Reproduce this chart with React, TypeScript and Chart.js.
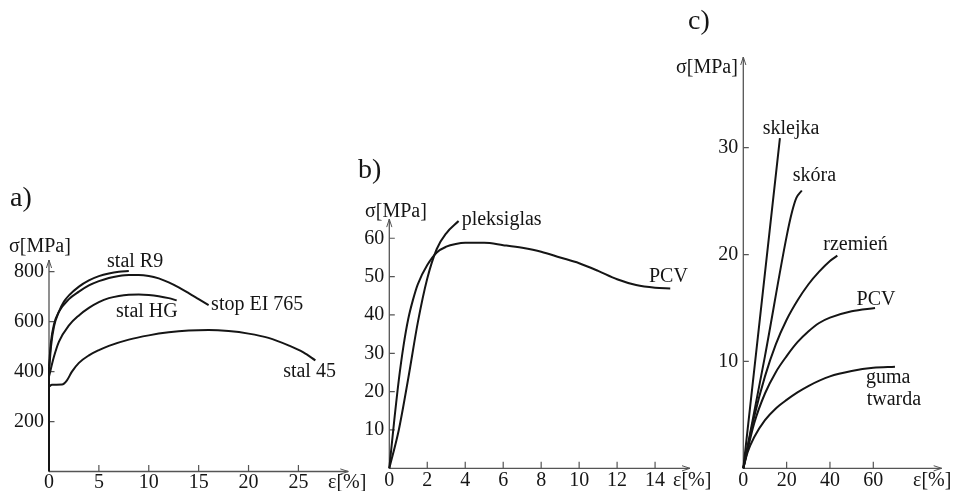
import React, { useEffect, useRef } from "react";
import { Chart, registerables } from "chart.js";

Chart.register(...registerables);

const W = 955;
const H = 491;
const FONT = '"Liberation Serif", "Times New Roman", serif';
const INK = "#151515";
const AXIS = "#555555";

// ---------- Panel a) steels ----------
const aTicksX = [0, 5, 10, 15, 20, 25];
const aTicksY = [200, 400, 600, 800];
const aStemX = [0, 0];
const aStemY = [0, 420];
const aR9X = [0, 0.2, 0.5, 1, 1.5, 2, 3, 4, 5, 6, 7, 8];
const aR9Y = [400, 500, 580, 640, 680, 705, 740, 765, 782, 793, 800, 803];
const aEIX = [0, 0.2, 0.5, 1, 2, 3, 4, 5, 6, 7, 8, 9, 10, 11, 12, 13, 14, 15, 16];
const aEIY = [420, 520, 590, 640, 690, 720, 745, 762, 775, 783, 787, 787, 783, 773, 757, 737, 714, 690, 666];
const aHGX = [0, 0.5, 1, 2, 3, 4, 5, 6, 7, 8, 9, 10, 11, 12, 12.8];
const aHGY = [380, 460, 520, 585, 625, 655, 678, 694, 703, 708, 709, 707, 702, 694, 685];
const a45X = [0, 0.3, 1.3, 1.8, 2.3, 3, 4, 5, 6, 8, 10, 12, 14, 16, 18, 20, 22, 24, 25.5, 26.7];
const a45Y = [340, 347, 348, 365, 400, 435, 465, 486, 503, 528, 545, 557, 564, 566, 562, 552, 535, 505, 477, 445];
const aLabels = ["stal R9", "stop EI 765", "stal HG", "stal 45"];
const aLabelX = [5.82, 16.25, 6.72, 23.47];
const aLabelY = [838, 666, 641, 400];

// ---------- Panel b) plastics ----------
const bTicksX = [0, 2, 4, 6, 8, 10, 12, 14];
const bTicksY = [10, 20, 30, 40, 50, 60];
const bPlexX = [0, 0.5, 1, 1.5, 2, 2.5, 3, 3.65];
const bPlexY = [0, 10, 23.5, 38, 49.5, 57.2, 61.3, 64.5];
const bPcvX = [0, 0.25, 0.5, 0.75, 1, 1.25, 1.5, 2, 2.5, 3, 3.5, 4, 5, 6, 7, 8, 9, 10, 11, 12, 13, 14, 14.8];
const bPcvY = [0, 12, 23, 32, 39, 44, 48, 53, 56.3, 57.8, 58.5, 58.8, 58.8, 58.2, 57.5, 56.5, 55, 53.5, 51.5, 49.3, 47.8, 47.1, 46.9];
const bLabels = ["pleksiglas", "PCV"];
const bLabelX = [3.81, 13.68];
const bLabelY = [64.8, 50.0];

// ---------- Panel c) soft materials ----------
const cTicksX = [0, 20, 40, 60];
const cTicksY = [10, 20, 30];
const cSklejkaX = [0, 16.9];
const cSklejkaY = [0, 30.9];
const cSkoraX = [0, 10, 20, 22.5, 24.5, 27];
const cSkoraY = [0, 10.5, 21.7, 24, 25.3, 26];
const cRzemienX = [0, 5, 10, 15, 20, 25, 30, 35, 40, 43.4];
const cRzemienY = [0, 4.8, 8.6, 11.6, 13.9, 15.7, 17.2, 18.4, 19.4, 19.9];
const cPcvX = [0, 5, 10, 15, 20, 25, 30, 35, 40, 50, 60.8];
const cPcvY = [0, 4.2, 7, 9, 10.5, 11.8, 12.8, 13.6, 14.1, 14.7, 15.0];
const cGumaX = [0, 2, 5, 10, 15, 20, 25, 30, 40, 50, 60, 70];
const cGumaY = [0, 1.5, 2.9, 4.5, 5.6, 6.4, 7.1, 7.7, 8.6, 9.1, 9.4, 9.5];
const cLabels = ["sklejka", "skóra", "rzemień", "PCV", "guma", "twarda"];
const cLabelX = [8.95, 22.8, 36.9, 52.3, 56.6, 56.95];
const cLabelY = [31.8, 27.35, 20.9, 15.75, 8.45, 6.39];

const pts = (xs: number[], ys: number[]) => xs.map((x, i) => ({ x, y: ys[i] }));

type Panel = {
  letter: string;
  letterPos: [number, number];
  sigmaPos: [number, number];
  epsPos: [number, number];
  area: { left: number; right: number; top: number; bottom: number };
  xMax: number;
  yMax: number;
  ticksX: number[];
  ticksY: number[];
  xPad: number;
  series: { xs: number[]; ys: number[] }[];
  labels: string[];
  labelX: number[];
  labelY: number[];
};

const panels: Panel[] = [
  {
    letter: "a)",
    letterPos: [10, 199],
    sigmaPos: [9, 247],
    epsPos: [328, 482.5],
    area: { left: 49, right: 348.3, top: 260, bottom: 471.5 },
    xMax: 30.0,
    yMax: 846.7,
    ticksX: aTicksX,
    ticksY: aTicksY,
    xPad: 1,
    series: [
      { xs: aStemX, ys: aStemY },
      { xs: aR9X, ys: aR9Y },
      { xs: aEIX, ys: aEIY },
      { xs: aHGX, ys: aHGY },
      { xs: a45X, ys: a45Y },
    ],
    labels: aLabels,
    labelX: aLabelX,
    labelY: aLabelY,
  },
  {
    letter: "b)",
    letterPos: [358, 171],
    sigmaPos: [365, 211.7],
    epsPos: [673, 480.5],
    area: { left: 389.3, right: 690, top: 219.1, bottom: 468.3 },
    xMax: 15.84,
    yMax: 65,
    ticksX: bTicksX,
    ticksY: bTicksY,
    xPad: 2,
    series: [
      { xs: bPlexX, ys: bPlexY },
      { xs: bPcvX, ys: bPcvY },
    ],
    labels: bLabels,
    labelX: bLabelX,
    labelY: bLabelY,
  },
  {
    letter: "c)",
    letterPos: [688, 22],
    sigmaPos: [676, 68],
    epsPos: [913, 481],
    area: { left: 743.3, right: 941.7, top: 57, bottom: 468.3 },
    xMax: 91.57,
    yMax: 38.49,
    ticksX: cTicksX,
    ticksY: cTicksY,
    xPad: 2,
    series: [
      { xs: cSklejkaX, ys: cSklejkaY },
      { xs: cSkoraX, ys: cSkoraY },
      { xs: cRzemienX, ys: cRzemienY },
      { xs: cPcvX, ys: cPcvY },
      { xs: cGumaX, ys: cGumaY },
    ],
    labels: cLabels,
    labelX: cLabelX,
    labelY: cLabelY,
  },
];

const Y_AXIS_W = 45;

function makeDecor(p: Panel) {
  return {
    id: "decor",
    beforeDatasetsDraw(chart: any) {
      const { ctx, chartArea: ca, scales } = chart;
      const xs = scales.x;
      const ys = scales.y;
      ctx.save();
      ctx.strokeStyle = AXIS;
      ctx.lineWidth = 1.3;
      ctx.beginPath();
      ctx.moveTo(ca.left, ca.bottom);
      ctx.lineTo(ca.right, ca.bottom);
      ctx.moveTo(ca.left, ca.bottom);
      ctx.lineTo(ca.left, ca.top);
      ctx.stroke();
      ctx.lineWidth = 1;
      ctx.beginPath();
      ctx.moveTo(ca.right - 8, ca.bottom - 2.6);
      ctx.lineTo(ca.right, ca.bottom);
      ctx.lineTo(ca.right - 8, ca.bottom + 2.6);
      ctx.moveTo(ca.left - 2.6, ca.top + 8);
      ctx.lineTo(ca.left, ca.top);
      ctx.lineTo(ca.left + 2.6, ca.top + 8);
      ctx.stroke();
      ctx.lineWidth = 1.2;
      ctx.beginPath();
      p.ticksX.forEach((v) => {
        if (v === 0) return;
        const px = xs.getPixelForValue(v);
        ctx.moveTo(px, ca.bottom);
        ctx.lineTo(px, ca.bottom - 6.5);
      });
      p.ticksY.forEach((v) => {
        const py = ys.getPixelForValue(v);
        ctx.moveTo(ca.left, py);
        ctx.lineTo(ca.left + 5.5, py);
      });
      ctx.stroke();
      ctx.restore();
    },
    afterDraw(chart: any) {
      const { ctx, scales } = chart;
      const xs = scales.x;
      const ys = scales.y;
      ctx.save();
      ctx.fillStyle = INK;
      ctx.textBaseline = "middle";
      ctx.textAlign = "left";
      ctx.font = `28px ${FONT}`;
      ctx.fillText(p.letter, p.letterPos[0], p.letterPos[1]);
      ctx.font = `20px ${FONT}`;
      ctx.fillText("σ[MPa]", p.sigmaPos[0], p.sigmaPos[1]);
      ctx.fillText("ε[%]", p.epsPos[0], p.epsPos[1]);
      p.labels.forEach((t, i) => {
        ctx.fillText(t, xs.getPixelForValue(p.labelX[i]), ys.getPixelForValue(p.labelY[i]));
      });
      ctx.restore();
    },
  };
}

function PanelChart({ p }: { p: Panel }) {
  const ref = useRef<HTMLCanvasElement | null>(null);
  useEffect(() => {
    if (!ref.current) return;
    const tickFont = { family: FONT, size: 20, lineHeight: 1 };
    const xAxisH = H - p.area.bottom;
    const chart = new Chart(ref.current, {
      type: "scatter",
      data: {
        datasets: p.series.map((s) => ({
          data: pts(s.xs, s.ys),
          showLine: true,
          borderColor: INK,
          borderWidth: 2,
          pointRadius: 0,
          cubicInterpolationMode: "monotone",
          clip: 6,
        })),
      },
      options: {
        responsive: false,
        animation: false,
        events: [],
        layout: {
          padding: {
            left: p.area.left - Y_AXIS_W,
            right: W - p.area.right,
            top: p.area.top,
            bottom: 0,
          },
        },
        plugins: {
          legend: { display: false },
          tooltip: { enabled: false },
          title: { display: false },
        },
        scales: {
          x: {
            type: "linear",
            min: 0,
            max: p.xMax,
            grid: { display: false, drawTicks: false },
            border: { display: false },
            afterFit: (s: any) => {
              s.height = xAxisH;
            },
            afterBuildTicks: (s: any) => {
              s.ticks = p.ticksX.map((v) => ({ value: v }));
            },
            ticks: {
              padding: p.xPad,
              color: INK,
              font: tickFont,
              maxRotation: 0,
              autoSkip: false,
              callback: (v: any) => String(v),
            },
          },
          y: {
            type: "linear",
            min: 0,
            max: p.yMax,
            grid: { display: false, drawTicks: false },
            border: { display: false },
            afterFit: (s: any) => {
              s.width = Y_AXIS_W;
            },
            afterBuildTicks: (s: any) => {
              s.ticks = p.ticksY.map((v) => ({ value: v }));
            },
            ticks: {
              padding: 5,
              color: INK,
              font: tickFont,
              autoSkip: false,
              callback: (v: any) => String(v),
            },
          },
        },
      },
      plugins: [makeDecor(p)],
    } as any);
    return () => chart.destroy();
  }, [p]);
  return (
    <canvas
      ref={ref}
      width={W}
      height={H}
      style={{ position: "absolute", left: 0, top: 0, width: W, height: H }}
    />
  );
}

export default function App() {
  return (
    <div
      style={{
        position: "fixed",
        left: 0,
        top: 0,
        width: W,
        height: H,
        background: "#ffffff",
        overflow: "hidden",
      }}
    >
      {panels.map((p) => (
        <PanelChart key={p.letter} p={p} />
      ))}
    </div>
  );
}
